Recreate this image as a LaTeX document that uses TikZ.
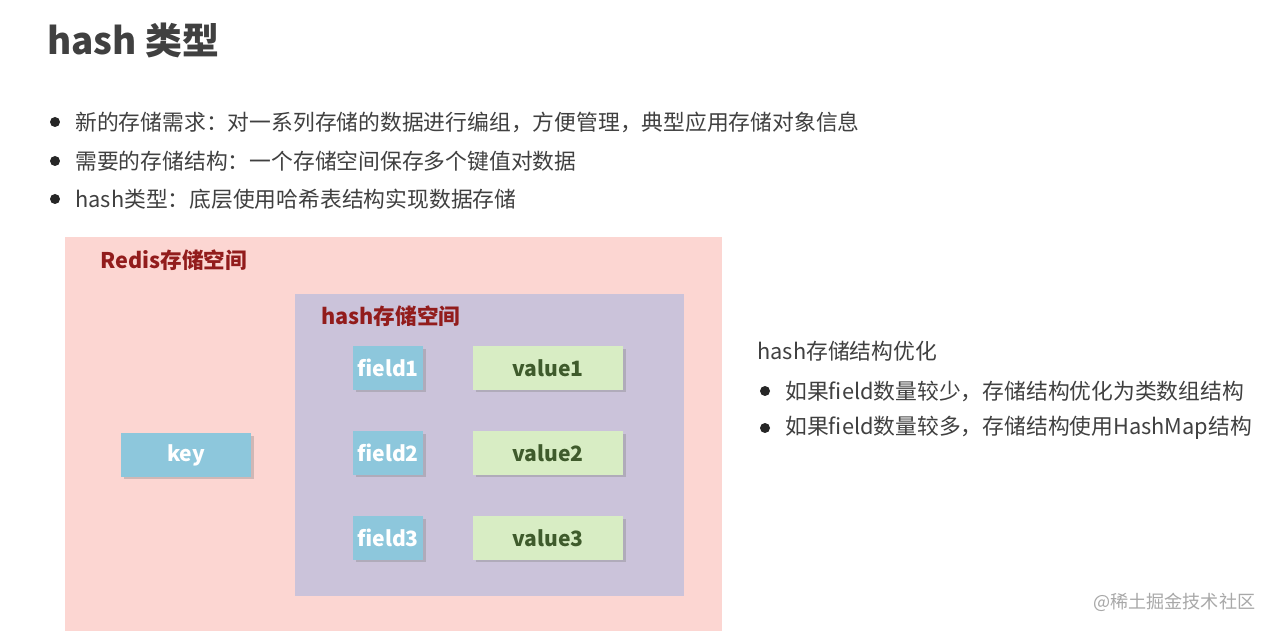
\documentclass[tikz,border=0pt]{standalone}
\usepackage{fontspec}
\setmainfont{Noto Sans CJK SC}
\usetikzlibrary{shadows}

\definecolor{txtgray}{HTML}{404040}
\definecolor{redisbg}{HTML}{FCD6D2}
\definecolor{hashbg}{HTML}{CBC3DA}
\definecolor{keyblue}{HTML}{8DC7DC}
\definecolor{valgreen}{HTML}{D8EDC4}
\definecolor{valtxt}{HTML}{3F5B2C}
\definecolor{darkred}{HTML}{921C1C}
\definecolor{markgray}{HTML}{A8A8A8}

\begin{document}
\begin{tikzpicture}[x=0.02cm, y=-0.02cm,
  spacebox/.style={rectangle, anchor=north west, inner sep=0pt},
  spacelabel/.style={anchor=west, inner sep=0pt, font=\fontsize{12.3pt}{14pt}\selectfont\bfseries, text=darkred},
  cell/.style={rectangle, inner sep=0pt, minimum height=0.87cm,
               font=\fontsize{12pt}{14pt}\selectfont\bfseries,
               drop shadow={shadow xshift=1.5pt, shadow yshift=-1.5pt, opacity=0.35}},
  fieldcell/.style={cell, fill=keyblue, text=white, minimum width=1.4cm},
  valuecell/.style={cell, fill=valgreen, text=valtxt, minimum width=3cm},
  line/.style={anchor=west, inner sep=0pt, text=txtgray, font=\fontsize{12.4pt}{15pt}\selectfont},
  dot/.style={circle, fill=black!85, inner sep=0pt, minimum size=0.2cm},
]
\useasboundingbox[fill=white] (0,0) rectangle (1274,631);

% title and bullets
\node[anchor=west, inner sep=0pt, text=txtgray, font=\fontsize{21pt}{25pt}\selectfont\bfseries] (title) at (47,40) {hash 类型};

\node[dot] (d1) at (55,122) {};
\node[line] (b1) at (75,122) {新的存储需求：对一系列存储的数据进行编组，方便管理，典型应用存储对象信息};
\node[dot] (d2) at (55,161) {};
\node[line] (b2) at (75,161) {需要的存储结构：一个存储空间保存多个键值对数据};
\node[dot] (d3) at (55,199) {};
\node[line] (b3) at (75,199) {hash类型：底层使用哈希表结构实现数据存储};

% storage spaces
\node[spacebox, fill=redisbg, minimum width=13.14cm, minimum height=7.88cm] (redis) at (65,237) {};
\node[spacelabel] (redislbl) at (100,260) {Redis存储空间};
\node[spacebox, fill=hashbg, minimum width=7.78cm, minimum height=6.04cm] (hash) at (295,294) {};
\node[spacelabel] (hashlbl) at (321,316) {hash存储空间};

\node[fieldcell, minimum width=2.6cm] (key) at (186,455) {key};

\foreach \i/\y in {1/368, 2/453, 3/538} {
  \node[fieldcell] (field\i) at (388,\y) {field\i};
  \node[valuecell] (value\i) at (548,\y) {value\i};
}

% optimisation notes
\node[line] (opt) at (757,351) {hash存储结构优化};
\node[dot] (d4) at (765,391) {};
\node[line] (o1) at (785,391) {如果field数量较少，存储结构优化为类数组结构};
\node[dot] (d5) at (765,428) {};
\node[line] (o2) at (785,428) {如果field数量较多，存储结构使用HashMap结构};

\node[anchor=west, inner sep=0pt, text=markgray, font=\fontsize{10.3pt}{12pt}\selectfont] (mark) at (1093,602) {@稀土掘金技术社区};
\end{tikzpicture}
\end{document}
